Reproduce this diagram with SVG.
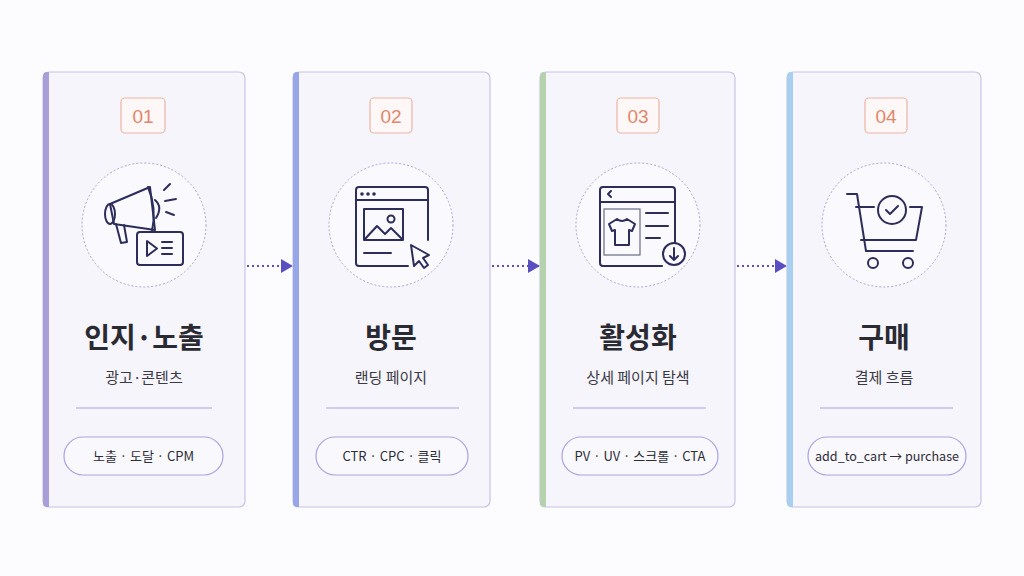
<svg xmlns="http://www.w3.org/2000/svg" width="1024" height="576" viewBox="0 0 1024 576">
<style>
.card{fill:#f6f5fc;stroke:#c8c2e8;stroke-width:1.2}
.badge{fill:#fdf8f7;stroke:#eab5a4;stroke-width:1.2}
.num{font-family:"Liberation Sans",Arial,sans-serif;font-size:19px;fill:#e0876a;text-anchor:middle}
.ring{fill:#faf9fd;stroke:#a9a3dc;stroke-width:1;stroke-dasharray:2 2}
.ic{fill:none;stroke:#2c2d5a;stroke-width:2;stroke-linecap:round;stroke-linejoin:round}
.t{font-family:"Noto Sans CJK KR","Noto Sans",sans-serif;font-size:28px;font-weight:700;fill:#2a2a33;text-anchor:middle}
.s{font-family:"Noto Sans CJK KR","Noto Sans",sans-serif;font-size:15px;fill:#3a3a44;text-anchor:middle}
.sep{stroke:#a9a4e0;stroke-width:1.2}
.pill{fill:#f9f8fd;stroke:#a9a3e0;stroke-width:1.2}
.p{font-family:"Noto Sans CJK KR","Noto Sans",sans-serif;font-size:13px;fill:#2d2d38;text-anchor:middle}
.con{stroke:#5a4fc0;stroke-width:2;stroke-dasharray:2 3;fill:none}
</style>
<defs><marker id="ah" markerWidth="12" markerHeight="14" refX="11" refY="7" orient="auto" markerUnits="userSpaceOnUse"><path d="M0,0 L12,7 L0,14Z" fill="#5a4fc0"/></marker></defs>
<rect width="1024" height="576" fill="#fcfcfe"/>
<g id="connectors">
<line class="con" x1="247" y1="266" x2="292" y2="266" marker-end="url(#ah)"/>
<line class="con" x1="492" y1="266" x2="539" y2="266" marker-end="url(#ah)"/>
<line class="con" x1="737" y1="266" x2="786" y2="266" marker-end="url(#ah)"/>
</g>
<g id="node1">
<rect class="card" x="43" y="72" width="202" height="435" rx="6"/>
<path d="M49,72 L49,507 L47,507 Q43,507 43,503 L43,76 Q43,72 47,72Z" fill="#a99fd6"/>
<rect class="badge" x="121" y="98" width="44" height="35" rx="4"/><text class="num" x="143" y="123">01</text>
<circle class="ring" cx="144" cy="225" r="62"/>
<g class="ic">
<path d="M110,204 L150,187 L155,230 L114,224Z"/>
<ellipse cx="110" cy="214" rx="5" ry="10"/>
<path d="M148,187 Q157,208 152,231"/>
<path d="M155,200 Q163,207 156,218"/>
<path d="M116,224 L121,243 L127,242 L124,225"/>
<rect x="137" y="232" width="46" height="33" rx="3"/>
<path d="M147,241 L147,256 L157,248.5Z"/>
<path d="M162,242 L172,242 M162,248 L172,248 M162,254 L172,254"/>
<path d="M164,190 L170,184 M165,201 L176,199 M166,212 L174,215"/>
</g>
<text class="t" x="144" y="348">인지·노출</text>
<text class="s" x="144" y="383">광고·콘텐츠</text>
<line class="sep" x1="76" y1="408" x2="212" y2="408"/>
<rect class="pill" x="64" y="437" width="159" height="38" rx="19"/><text class="p" x="143.5" y="461">노출 · 도달 · CPM</text>
</g>
<g id="node2">
<rect class="card" x="293" y="72" width="197" height="435" rx="6"/>
<path d="M299,72 L299,507 L297,507 Q293,507 293,503 L293,76 Q293,72 297,72Z" fill="#97a6e6"/>
<rect class="badge" x="370" y="98" width="42" height="35" rx="4"/><text class="num" x="391" y="123">02</text>
<circle class="ring" cx="391" cy="225" r="62"/>
<g class="ic">
<path d="M408,266 L359,266 Q356,266 356,263 L356,190 Q356,187 359,187 L425,187 Q428,187 428,190 L428,240"/>
<path d="M356,200 L428,200"/>
<rect x="364" y="209" width="39" height="31"/>
<path d="M365,239 L377,226 L385,234 L391,228 L402,239"/>
<circle cx="391" cy="219" r="3.5"/>
<path d="M364,253 L391,253"/>
<path d="M411,245 L414,266 L419,261 L424,268 L428,265 L423,258 L429,255Z"/>
</g>
<g fill="#2c2d5a"><circle cx="362" cy="194" r="1.8"/><circle cx="368" cy="194" r="1.8"/><circle cx="374" cy="194" r="1.8"/></g>
<text class="t" x="391" y="348">방문</text>
<text class="s" x="391" y="383">랜딩 페이지</text>
<line class="sep" x1="326" y1="408" x2="459" y2="408"/>
<rect class="pill" x="316" y="437" width="152" height="38" rx="19"/><text class="p" x="392" y="461">CTR · CPC · 클릭</text>
</g>
<g id="node3">
<rect class="card" x="540" y="72" width="195" height="435" rx="6"/>
<path d="M546,72 L546,507 L544,507 Q540,507 540,503 L540,76 Q540,72 544,72Z" fill="#b3d2ad"/>
<rect class="badge" x="617" y="98" width="42" height="35" rx="4"/><text class="num" x="638" y="123">03</text>
<circle class="ring" cx="638" cy="225" r="62"/>
<rect x="604" y="209" width="36" height="46" fill="none" stroke="#6a6a88" stroke-width="1.2"/>
<g class="ic">
<path d="M662,266 L603,266 Q600,266 600,263 L600,190 Q600,187 603,187 L672,187 Q675,187 675,190 L675,242"/>
<path d="M600,202 L675,202"/>
<path d="M611,191 L608,194 L611,197"/>
<path d="M609,224 L617,219 Q622,223 627,219 L635,224 L632,231 L629,230 L629,245 L615,245 L615,230 L612,231Z"/>
<path d="M646,213 L668,213 M646,226 L668,226 M646,238 L660,238"/>
<circle cx="674" cy="254" r="11"/>
<path d="M674,248 L674,260 M670,256 L674,260 L678,256"/>
</g>
<text class="t" x="638" y="348">활성화</text>
<text class="s" x="638" y="383">상세 페이지 탐색</text>
<line class="sep" x1="573" y1="408" x2="706" y2="408"/>
<rect class="pill" x="562" y="437" width="156" height="38" rx="19"/><text class="p" x="640" y="461">PV · UV · 스크롤 · CTA</text>
</g>
<g id="node4">
<rect class="card" x="787" y="72" width="194" height="435" rx="6"/>
<path d="M793,72 L793,507 L791,507 Q787,507 787,503 L787,76 Q787,72 791,72Z" fill="#a8cff0"/>
<rect class="badge" x="865" y="98" width="42" height="35" rx="4"/><text class="num" x="886" y="123">04</text>
<circle class="ring" cx="884" cy="225" r="62"/>
<g class="ic">
<path d="M847,194 L857,194 L866,251 L913,251"/>
<path d="M856,207 L874,207 M910,207 L922,207 L916,240 L861,240"/>
<circle cx="873" cy="263" r="5"/><circle cx="908" cy="263" r="5"/>
<circle cx="892" cy="210" r="14"/>
<path d="M886,210 L890,214 L898,206"/>
</g>
<text class="t" x="884" y="348">구매</text>
<text class="s" x="884" y="383">결제 흐름</text>
<line class="sep" x1="820" y1="408" x2="953" y2="408"/>
<rect class="pill" x="808" y="437" width="158" height="38" rx="19"/><text class="p" x="887" y="461" textLength="144" lengthAdjust="spacingAndGlyphs">add_to_cart → purchase</text>
</g>
</svg>
